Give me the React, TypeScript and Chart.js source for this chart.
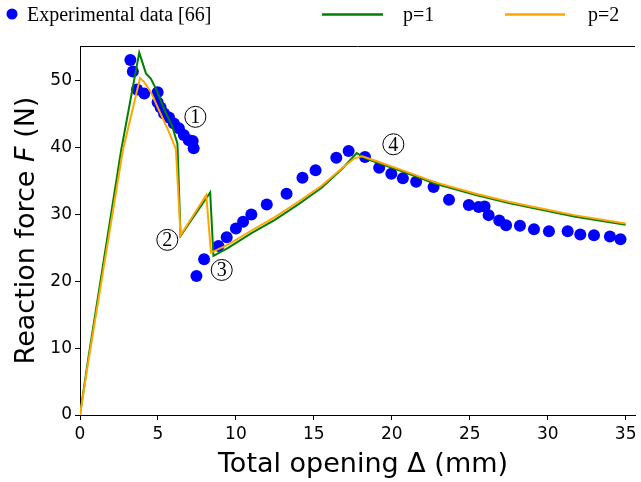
import React, { useEffect, useRef } from "react";
import { Chart, registerables } from "chart.js";

Chart.register(...registerables);

// Experimental reaction force measurements
const expX = [3.23, 3.39, 3.66, 4.12, 4.98, 4.98, 5.17, 5.39, 5.71, 6.02, 6.34, 6.66, 6.98, 7.23, 7.29,
  7.47, 7.96, 8.88, 9.41, 10.0, 10.46, 10.99, 11.98, 13.25, 14.27, 15.11, 16.44, 17.23, 18.28, 19.19,
  19.97, 20.71, 21.56, 22.68, 23.67, 24.94, 25.57, 25.95, 26.21, 26.89, 27.33, 28.22, 29.12, 30.08,
  31.28, 32.09, 32.97, 33.99, 34.67];
const expY = [53.1, 51.4, 48.7, 48.1, 48.3, 46.8, 46.0, 45.1, 44.5, 43.6, 42.9, 41.9, 41.1, 41.0, 39.9,
  20.8, 23.3, 25.3, 26.6, 27.9, 28.9, 30.0, 31.5, 33.1, 35.5, 36.6, 38.5, 39.5, 38.6, 37.0,
  36.1, 35.4, 34.9, 34.1, 32.2, 31.4, 31.1, 31.2, 29.9, 29.1, 28.4, 28.3, 27.8, 27.5,
  27.5, 27.0, 26.9, 26.7, 26.3];

// Simulation, p = 1
const p1X = [0, 0.5, 2.64, 3.8, 4.23, 4.55, 4.97, 5.39, 5.9, 6.25, 6.45, 8.35, 8.56,
  9.5, 11.0, 12.5, 14.0, 15.5, 16.8, 17.75, 18.3, 19.0, 20.7, 22.8, 25.4, 27.5, 29.6, 31.7, 35.0];
const p1Y = [0, 8.0, 39.6, 54.2, 51.1, 50.3, 48.3, 45.8, 43.3, 40.6, 26.8, 33.3, 23.8,
  25.0, 27.2, 29.2, 31.5, 34.0, 36.8, 39.2, 38.4, 37.8, 36.4, 34.6, 32.9, 31.7, 30.7, 29.7, 28.45];

// Simulation, p = 2
const p2X = [0, 0.5, 2.75, 3.85, 4.12, 4.55, 4.97, 5.6, 6.15, 6.45, 8.1, 8.4,
  9.5, 11.0, 12.5, 14.0, 15.5, 16.8, 17.6, 18.1, 19.0, 20.7, 22.8, 25.4, 27.5, 29.6, 31.7, 35.0];
const p2Y = [0, 7.5, 39.6, 50.4, 49.8, 48.3, 46.1, 42.9, 39.8, 26.9, 32.9, 24.3,
  25.5, 27.6, 29.6, 31.9, 34.3, 36.9, 38.4, 38.7, 38.0, 36.6, 34.8, 33.1, 31.9, 30.9, 29.9, 28.65];

const xTicks = [0, 5, 10, 15, 20, 25, 30, 35];
const yTicks = [0, 10, 20, 30, 40, 50];

// Circled stage annotations
const stageLabels = ["1", "2", "3", "4"];
const stageX = [7.4, 5.6, 9.09, 20.1];
const stageY = [44.6, 26.2, 21.7, 40.5];

const legendLabels = ["Experimental data [66]", "p=1", "p=2"];
const BLUE = "#0000ff";
const GREEN = "#008000";
const ORANGE = "#ffa500";

const zip = (xs: number[], ys: number[]) => xs.map((x, i) => ({ x, y: ys[i] }));

const overlay = {
  id: "overlay",
  afterDraw(chart: any) {
    const { ctx, chartArea, scales } = chart;
    const sx = scales.x;
    const sy = scales.y;
    ctx.save();

    // top spine
    ctx.strokeStyle = "#000";
    ctx.lineWidth = 1;
    ctx.beginPath();
    ctx.moveTo(chartArea.left, chartArea.top + 0.5);
    ctx.lineTo(chartArea.right, chartArea.top + 0.5);
    ctx.stroke();

    // circled stage numbers
    stageLabels.forEach((t, i) => {
      const cx = sx.getPixelForValue(stageX[i]);
      const cy = sy.getPixelForValue(stageY[i]);
      ctx.beginPath();
      ctx.lineWidth = 1;
      ctx.strokeStyle = "#000";
      ctx.arc(cx, cy, 10.5, 0, Math.PI * 2);
      ctx.stroke();
      ctx.fillStyle = "#000";
      ctx.font = '20px "Liberation Serif"';
      ctx.textAlign = "center";
      ctx.textBaseline = "middle";
      ctx.fillText(t, cx, cy + 1);
    });

    // x axis title
    ctx.fillStyle = "#000";
    ctx.textBaseline = "alphabetic";
    ctx.textAlign = "center";
    ctx.font = '27px "DejaVu Sans"';
    ctx.fillText("Total opening Δ (mm)", 363, 472);

    // y axis title with italic F
    const parts = [
      { t: "Reaction force ", f: '27px "DejaVu Sans"' },
      { t: "F", f: 'italic 27px "DejaVu Sans"' },
      { t: " (N)", f: '27px "DejaVu Sans"' },
    ];
    let total = 0;
    const widths = parts.map((p) => {
      ctx.font = p.f;
      const w = ctx.measureText(p.t).width;
      total += w;
      return w;
    });
    ctx.translate(34, (chartArea.top + chartArea.bottom) / 2);
    ctx.rotate(-Math.PI / 2);
    ctx.textAlign = "left";
    let px = -total / 2;
    parts.forEach((p, i) => {
      ctx.font = p.f;
      ctx.fillText(p.t, px, 0);
      px += widths[i];
    });
    ctx.setTransform(1, 0, 0, 1, 0, 0);

    // legend
    ctx.fillStyle = BLUE;
    ctx.beginPath();
    ctx.arc(12, 14, 5.5, 0, Math.PI * 2);
    ctx.fill();
    ctx.fillStyle = "#000";
    ctx.font = '20px "Liberation Serif"';
    ctx.textAlign = "left";
    ctx.fillText(legendLabels[0], 27, 21);
    ctx.lineWidth = 2.5;
    ctx.strokeStyle = GREEN;
    ctx.beginPath();
    ctx.moveTo(322, 14.5);
    ctx.lineTo(383, 14.5);
    ctx.stroke();
    ctx.fillText(legendLabels[1], 403, 21);
    ctx.strokeStyle = ORANGE;
    ctx.beginPath();
    ctx.moveTo(505, 14.5);
    ctx.lineTo(565, 14.5);
    ctx.stroke();
    ctx.fillText(legendLabels[2], 588, 21);

    ctx.restore();
  },
};

export default function App() {
  const ref = useRef<HTMLCanvasElement>(null);

  useEffect(() => {
    document.body.style.margin = "0";
    const canvas = ref.current;
    if (!canvas) return;
    const tickFont = { family: "DejaVu Sans", size: 17 };
    const chart = new Chart(canvas, {
      type: "scatter",
      data: {
        datasets: [
          {
            label: legendLabels[2],
            data: zip(p2X, p2Y),
            showLine: true,
            borderColor: ORANGE,
            borderWidth: 2,
            pointRadius: 0,
            tension: 0,
          },
          {
            label: legendLabels[1],
            data: zip(p1X, p1Y),
            showLine: true,
            borderColor: GREEN,
            borderWidth: 2,
            pointRadius: 0,
            tension: 0,
          },
          {
            label: legendLabels[0],
            data: zip(expX, expY),
            pointRadius: 6,
            pointBackgroundColor: BLUE,
            pointBorderWidth: 0,
            backgroundColor: BLUE,
            borderColor: BLUE,
          },
        ],
      },
      options: {
        animation: false,
        responsive: false,
        devicePixelRatio: 1,
        layout: { padding: { top: 46, left: 0, right: 0, bottom: 0 } },
        plugins: { legend: { display: false }, tooltip: { enabled: false } },
        scales: {
          x: {
            type: "linear",
            min: 0,
            max: 35.6,
            afterFit: (s: any) => {
              s.height = 67;
            },
            afterBuildTicks: (s: any) => {
              s.ticks = xTicks.map((v) => ({ value: v }));
            },
            ticks: { font: tickFont, color: "#000", padding: 4, maxRotation: 0, autoSkip: false },
            grid: { drawOnChartArea: false, drawTicks: true, tickLength: 5, color: "#000" },
            border: { display: true, color: "#000", width: 1 },
          },
          y: {
            type: "linear",
            min: 0,
            max: 55.2,
            afterFit: (s: any) => {
              s.width = 80;
            },
            afterBuildTicks: (s: any) => {
              s.ticks = yTicks.map((v) => ({ value: v }));
            },
            ticks: { font: tickFont, color: "#000", padding: 3, autoSkip: false },
            grid: { drawOnChartArea: false, drawTicks: true, tickLength: 5, color: "#000" },
            border: { display: true, color: "#000", width: 1 },
          },
        },
      },
      plugins: [overlay],
    });
    return () => chart.destroy();
  }, []);

  return <canvas ref={ref} width={641} height={482} style={{ display: "block" }} />;
}
